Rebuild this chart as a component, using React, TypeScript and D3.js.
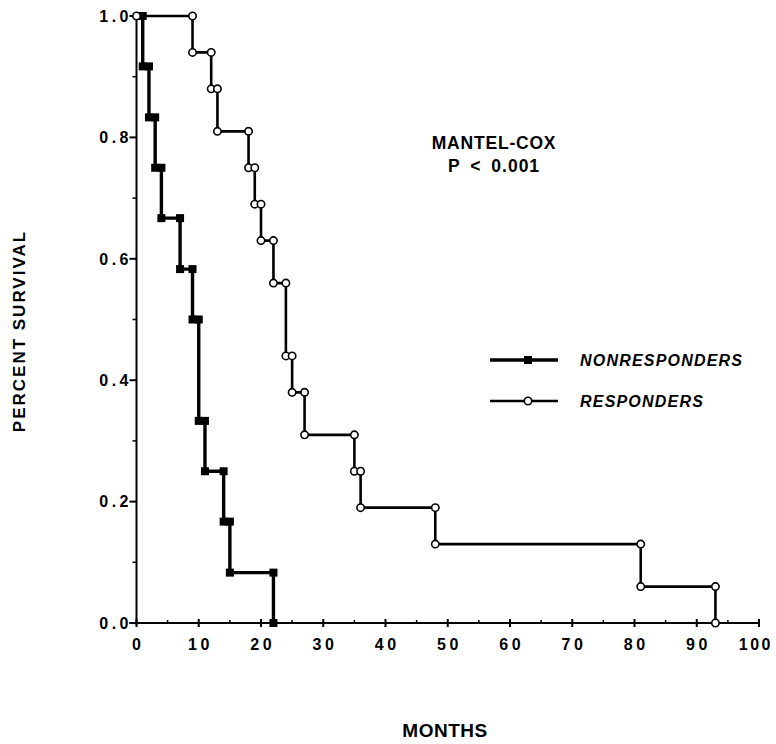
import React from "react";
import * as d3 from "d3";

// Kaplan-Meier steps
const nonresponderTimes = [1, 2, 3, 4, 7, 9, 10, 11, 14, 15, 22];
const nonresponderSurvival = [0.917, 0.833, 0.75, 0.667, 0.583, 0.5, 0.333, 0.25, 0.167, 0.083, 0];
const responderTimes = [9, 12, 13, 18, 19, 20, 22, 24, 25, 27, 35, 36, 48, 81, 93];
const responderSurvival = [0.94, 0.88, 0.81, 0.75, 0.69, 0.63, 0.56, 0.44, 0.38, 0.31, 0.25, 0.19, 0.13, 0.06, 0];

const xTicks = [0, 10, 20, 30, 40, 50, 60, 70, 80, 90, 100];
const yTicks = [0, 0.2, 0.4, 0.6, 0.8, 1.0];

const W = 776;
const H = 744;
const FONT = "'Liberation Sans', Arial, sans-serif";

const x = d3.scaleLinear().domain([0, 100]).range([136.5, 759]);
const y = d3.scaleLinear().domain([0, 1]).range([623, 16]);

type Pt = [number, number];

// step points starting at (0,1)
const stepPoints = (times: number[], surv: number[]): Pt[] => {
  const pts: Pt[] = [[0, 1]];
  times.forEach((t, i) => pts.push([t, surv[i]]));
  return pts;
};

// marker at top and bottom of each drop
const cornerPoints = (times: number[], surv: number[]): Pt[] => {
  const pts: Pt[] = [];
  times.forEach((t, i) => {
    const prev = i === 0 ? 1 : surv[i - 1];
    pts.push([t, prev]);
    pts.push([t, surv[i]]);
  });
  return pts;
};

const line = d3
  .line<Pt>()
  .x((d) => x(d[0]))
  .y((d) => y(d[1]))
  .curve(d3.curveStepAfter);

const TICK_SPACING = 3.5;

const App = () => {
  const nonPts = stepPoints(nonresponderTimes, nonresponderSurvival);
  const resPts = stepPoints(responderTimes, responderSurvival);
  const nonMarks = cornerPoints(nonresponderTimes, nonresponderSurvival);
  const resMarks: Pt[] = [[0, 1], ...cornerPoints(responderTimes, responderSurvival)];

  const xMinor = d3.range(5, 100, 10);
  const yMinor = d3.range(0.1, 1, 0.2);

  return (
    <svg
      width={W}
      height={H}
      style={{ position: "absolute", left: 0, top: 0, background: "#fff" }}
      fontFamily={FONT}
    >
      {/* axes */}
      <g stroke="#000" strokeWidth={2}>
        <line x1={x(0)} x2={x(0)} y1={y(1)} y2={y(0) + 2} />
        <line x1={x(0) - 7} x2={x(100)} y1={y(0)} y2={y(0)} />
        {yTicks.map((t) => (
          <line key={"yt" + t} x1={x(0) - 7} x2={x(0)} y1={y(t)} y2={y(t)} />
        ))}
        {yMinor.map((t) => (
          <line key={"ym" + t} x1={x(0) - 4} x2={x(0)} y1={y(t)} y2={y(t)} strokeWidth={1.5} />
        ))}
        {xTicks.map((t) => (
          <line key={"xt" + t} x1={x(t)} x2={x(t)} y1={y(0) - 4} y2={y(0) + 4} />
        ))}
        {xMinor.map((t) => (
          <line key={"xm" + t} x1={x(t)} x2={x(t)} y1={y(0) - 3} y2={y(0)} strokeWidth={1.5} />
        ))}
      </g>

      {/* tick labels */}
      <g fontSize={16} fontWeight="bold" fill="#000" letterSpacing={TICK_SPACING}>
        {yTicks.map((t) => (
          <text key={"yl" + t} x={x(0) - 8 + TICK_SPACING} y={y(t)} dy="0.36em" textAnchor="end">
            {t.toFixed(1)}
          </text>
        ))}
        {xTicks.map((t) =>
          t === 100 ? (
            <text key={"xl" + t} x={W - 3} y={y(0) + 21} dy="0.36em" textAnchor="end" letterSpacing={2.5}>
              {t}
            </text>
          ) : (
            <text key={"xl" + t} x={x(t) + TICK_SPACING / 2} y={y(0) + 21} dy="0.36em" textAnchor="middle">
              {t}
            </text>
          )
        )}
      </g>

      {/* axis titles */}
      <text
        transform={`translate(25,331) rotate(-90)`}
        textAnchor="middle"
        fontSize={17}
        fontWeight="bold"
        letterSpacing={2}
      >
        PERCENT SURVIVAL
      </text>
      <text x={445} y={737} textAnchor="middle" fontSize={19} fontWeight="bold" letterSpacing={0.5}>
        MONTHS
      </text>

      {/* curves */}
      <path d={line(resPts) || ""} fill="none" stroke="#000" strokeWidth={2.6} />
      <path d={line(nonPts) || ""} fill="none" stroke="#000" strokeWidth={3.4} />
      {nonMarks.map((d, i) => (
        <rect key={"n" + i} x={x(d[0]) - 4} y={y(d[1]) - 4} width={8} height={8} fill="#000" />
      ))}
      {resMarks.map((d, i) => (
        <circle key={"r" + i} cx={x(d[0])} cy={y(d[1])} r={3.7} fill="#fff" stroke="#000" strokeWidth={1.6} />
      ))}

      {/* annotation */}
      <g textAnchor="middle" fontSize={17.5} fontWeight="bold" letterSpacing={0.8}>
        <text x={494} y={149}>MANTEL-COX</text>
        <text x={494} y={172} letterSpacing={1}>
          P{"\u2002"}&lt;{"\u2002"}0.001
        </text>
      </g>

      {/* legend */}
      <g>
        <line x1={490} x2={558} y1={360} y2={360} stroke="#000" strokeWidth={3.4} />
        <rect x={524} y={356} width={8} height={8} fill="#000" />
        <line x1={490} x2={558} y1={401} y2={401} stroke="#000" strokeWidth={2.6} />
        <circle cx={528} cy={401} r={3.7} fill="#fff" stroke="#000" strokeWidth={1.6} />
        <g fontSize={16} fontWeight="bold" fontStyle="italic" letterSpacing={1.2}>
          <text x={580} y={360} dy="0.36em">NONRESPONDERS</text>
          <text x={580} y={401} dy="0.36em">RESPONDERS</text>
        </g>
      </g>
    </svg>
  );
};

export default App;
